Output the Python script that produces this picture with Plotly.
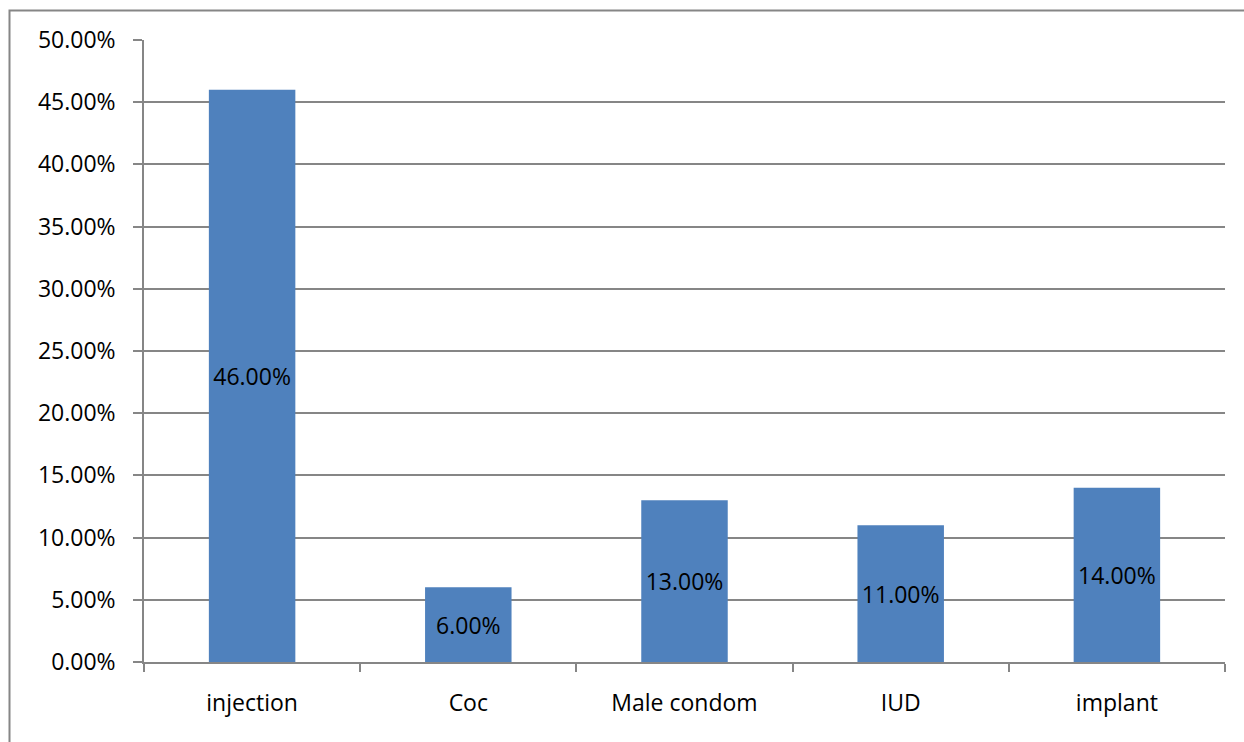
import plotly.graph_objects as go

methods = ["injection", "Coc", "Male condom", "IUD", "implant"]
shares = [0.46, 0.06, 0.13, 0.11, 0.14]
y_ticks = [0.0, 0.05, 0.10, 0.15, 0.20, 0.25, 0.30, 0.35, 0.40, 0.45, 0.50]

W, H = 1244, 742
L, R, T, B = 144, 19, 40, 80
pw, ph = W - L - R, H - T - B
GRID = "#868686"
FONT = "Open Sans, Liberation Sans, sans-serif"
FS = 23


def px_x(p):
    return (p - L) / pw


def px_y(p):
    return (H - B - p) / ph


fig = go.Figure(
    go.Bar(
        x=methods,
        y=shares,
        marker=dict(color="#4F81BD", line=dict(width=0)),
        width=0.4,
        texttemplate="%{y:.2%}",
        textposition="inside",
        insidetextanchor="middle",
        textangle=0,
        textfont=dict(size=FS, color="#000000", family=FONT),
        hoverinfo="x+y",
    )
)

fig.update_layout(
    width=W,
    height=H,
    margin=dict(l=L, r=R, t=T, b=B, pad=0),
    paper_bgcolor="white",
    plot_bgcolor="white",
    showlegend=False,
    font=dict(family=FONT, size=FS, color="#000000"),
    uniformtext=dict(minsize=8, mode="show"),
    shapes=[
        dict(
            type="rect",
            xref="paper",
            yref="paper",
            x0=px_x(9.5),
            x1=px_x(1300),
            y0=px_y(800),
            y1=px_y(10.5),
            line=dict(color=GRID, width=2),
            layer="below",
        )
    ],
)

fig.update_xaxes(
    showgrid=False,
    showline=True,
    linecolor=GRID,
    linewidth=1.5,
    ticks="outside",
    tickson="boundaries",
    ticklen=8,
    tickcolor=GRID,
    tickwidth=1.5,
    ticklabelstandoff=20,
    tickfont=dict(size=FS, family=FONT, color="#000000"),
)

fig.update_yaxes(
    range=[0, 0.5],
    tickvals=y_ticks,
    tickformat=".2%",
    showgrid=True,
    gridcolor=GRID,
    gridwidth=1.5,
    zeroline=False,
    showline=True,
    linecolor=GRID,
    linewidth=1.5,
    ticks="outside",
    ticklen=9,
    tickcolor=GRID,
    tickwidth=1.5,
    ticklabelstandoff=13,
    tickfont=dict(size=FS, family=FONT, color="#000000"),
)

fig.write_html("out.html")
